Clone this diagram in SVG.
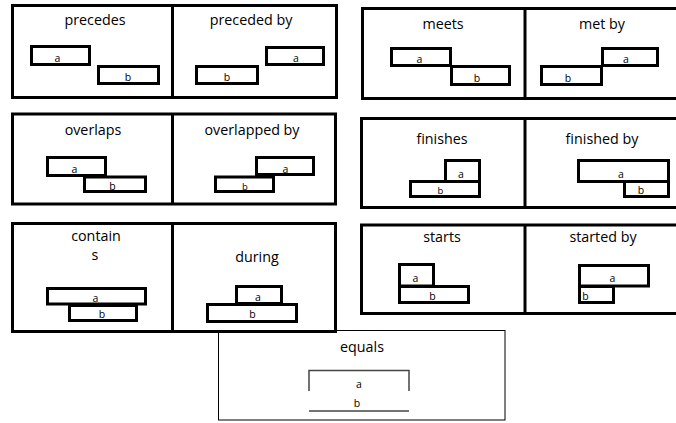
<svg xmlns="http://www.w3.org/2000/svg" width="676" height="423" viewBox="0 0 676 423">
<style>
.panel{fill:none;stroke:#000;stroke-width:3}
.bar{fill:none;stroke:#000;stroke-width:3}
.t{font-family:"Open Sans","Noto Sans",sans-serif;font-size:14.3px;fill:#000;text-anchor:middle}
.s{font-family:"Open Sans","Noto Sans",sans-serif;font-size:10.5px;fill:#000;text-anchor:middle}
.thin{fill:none;stroke:#000;stroke-width:1}
.eq{fill:none;stroke:#444;stroke-width:1.5}
</style>
<rect width="676" height="423" fill="#fff"/>
<g id="equals">
<rect class="thin" x="218.5" y="330.5" width="286.5" height="89.5"/>
<text class="t" x="362" y="352">equals</text>
<path class="eq" d="M309,391 V370.5 H409 V391"/>
<line class="eq" x1="309" y1="411" x2="409" y2="411"/>
<text class="s" x="359" y="388">a</text>
<text class="s" x="357" y="407">b</text>
</g>
<g id="row1-left">
<rect class="panel" x="12.5" y="5.5" width="324" height="92"/>
<line class="panel" x1="172.5" y1="5.5" x2="172.5" y2="97.5"/>
</g>
<g id="precedes">
<text class="t" x="95" y="25">precedes</text>
<rect class="bar" x="31.5" y="46.5" width="58" height="18"/>
<text class="s" x="57.5" y="62">a</text>
<rect class="bar" x="98.5" y="66.5" width="60" height="17"/>
<text class="s" x="128" y="81">b</text>
</g>
<g id="preceded-by">
<text class="t" x="251" y="25">preceded by</text>
<rect class="bar" x="266.5" y="47.5" width="57" height="17"/>
<text class="s" x="296" y="62">a</text>
<rect class="bar" x="196.5" y="66.5" width="61" height="17"/>
<text class="s" x="227" y="81">b</text>
</g>
<g id="row1-right">
<rect class="panel" x="362.5" y="8.5" width="320" height="90"/>
<line class="panel" x1="525" y1="8.5" x2="525" y2="98.5"/>
</g>
<g id="meets">
<text class="t" x="443" y="29">meets</text>
<rect class="bar" x="391.5" y="48.5" width="59" height="17"/>
<text class="s" x="419.5" y="63">a</text>
<rect class="bar" x="451.5" y="66.5" width="58" height="18"/>
<text class="s" x="477" y="82">b</text>
</g>
<g id="met-by">
<text class="t" x="602" y="29">met by</text>
<rect class="bar" x="602.5" y="48.5" width="55" height="17"/>
<text class="s" x="626" y="63">a</text>
<rect class="bar" x="541.5" y="66.5" width="60" height="18"/>
<text class="s" x="568" y="82">b</text>
</g>
<g id="row2-left">
<rect class="panel" x="12.5" y="114" width="323" height="90"/>
<line class="panel" x1="172.5" y1="114" x2="172.5" y2="204"/>
</g>
<g id="overlaps">
<text class="t" x="93" y="135">overlaps</text>
<rect class="bar" x="47.5" y="157.5" width="58" height="18"/>
<text class="s" x="74.5" y="173">a</text>
<rect class="bar" x="84.5" y="177" width="61" height="14.5"/>
<text class="s" x="112.5" y="190">b</text>
</g>
<g id="overlapped-by">
<text class="t" x="252" y="135">overlapped by</text>
<rect class="bar" x="256.5" y="157.5" width="57" height="17"/>
<text class="s" x="285.5" y="173">a</text>
<rect class="bar" x="215.5" y="177" width="58" height="14.5"/>
<text class="s" x="245" y="190" style="font-size:9.5px">b</text>
</g>
<g id="row2-right">
<rect class="panel" x="361.5" y="118.5" width="321" height="89"/>
<line class="panel" x1="525" y1="118.5" x2="525" y2="207.5"/>
</g>
<g id="finishes">
<text class="t" x="442" y="144">finishes</text>
<rect class="bar" x="445.5" y="160.5" width="34" height="21"/>
<text class="s" x="461" y="178">a</text>
<rect class="bar" x="410.5" y="181.5" width="69" height="15"/>
<text class="s" x="440.5" y="194" style="font-size:9.5px">b</text>
</g>
<g id="finished-by">
<text class="t" x="602" y="144">finished by</text>
<rect class="bar" x="578.5" y="160.5" width="90" height="21"/>
<text class="s" x="621" y="178">a</text>
<rect class="bar" x="624.5" y="181.5" width="44" height="15"/>
<text class="s" x="641" y="194">b</text>
</g>
<g id="row3-left">
<rect class="panel" x="12.5" y="223.5" width="323" height="108"/>
<line class="panel" x1="172.5" y1="223.5" x2="172.5" y2="331.5"/>
</g>
<g id="contains">
<text class="t" x="96" y="240.5">contain</text>
<text class="t" x="95" y="260">s</text>
<rect class="bar" x="47.5" y="288.5" width="98" height="15.5"/>
<text class="s" x="95.5" y="302">a</text>
<rect class="bar" x="69.5" y="305.5" width="67" height="15"/>
<text class="s" x="102" y="318">b</text>
</g>
<g id="during">
<text class="t" x="257" y="262">during</text>
<rect class="bar" x="236.5" y="286.5" width="45" height="17"/>
<text class="s" x="258" y="301">a</text>
<rect class="bar" x="207.5" y="304.5" width="89" height="17"/>
<text class="s" x="252.5" y="318">b</text>
</g>
<g id="row3-right">
<rect class="panel" x="361.5" y="225" width="321" height="88.5"/>
<line class="panel" x1="525" y1="225" x2="525" y2="313.5"/>
</g>
<g id="starts">
<text class="t" x="442" y="242">starts</text>
<rect class="bar" x="399.5" y="264.5" width="34" height="21.5"/>
<text class="s" x="415.5" y="282">a</text>
<rect class="bar" x="399.5" y="286.5" width="69" height="16"/>
<text class="s" x="432.5" y="300">b</text>
</g>
<g id="started-by">
<text class="t" x="603" y="242">started by</text>
<rect class="bar" x="579.5" y="265.5" width="69" height="20.5"/>
<text class="s" x="612.5" y="282">a</text>
<rect class="bar" x="579.5" y="286.5" width="34" height="16"/>
<text class="s" x="585.5" y="300">b</text>
</g>
<g id="connectors"></g>
</svg>
